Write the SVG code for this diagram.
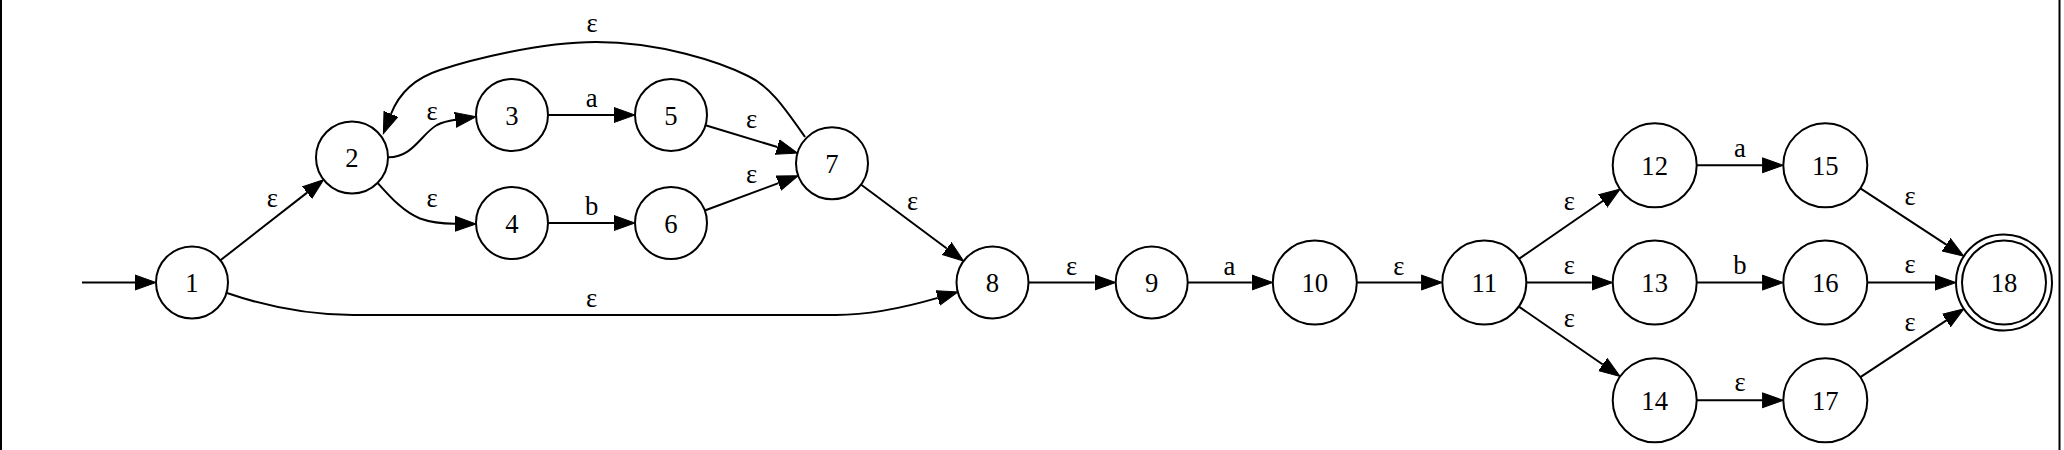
<svg xmlns="http://www.w3.org/2000/svg" width="2064" height="450" viewBox="0 0 2064 450">
<style>
.n circle{fill:#fff;stroke:#000;stroke-width:2}
.n text,.lbl text{font-family:"Liberation Serif","Times New Roman",serif;font-size:26.67px;text-anchor:middle;fill:#000}
.e path{fill:none;stroke:#000;stroke-width:2;marker-end:url(#ah)}
.frame{stroke:#000;stroke-width:2}
</style>
<defs>
<marker id="ah" markerUnits="userSpaceOnUse" markerWidth="24" markerHeight="18" refX="0" refY="8" orient="auto" viewBox="0 0 24 16">
<path d="M0,0.5 L21,8 L0,15.5 z" fill="#000" stroke="#000" stroke-width="1"/>
</marker>
</defs>
<rect width="2064" height="450" fill="#fff"/>
<line class="frame" x1="1" y1="0" x2="1" y2="450"/>
<line class="frame" x1="2059.5" y1="0" x2="2059.5" y2="450"/>
<g id="connectors" class="e">
<path d="M82,282.5 L135,282.5"/>
<path d="M220.4,260.3 L307.1,192.6"/>
<path d="M227,293 C262,305 305,315 353,315 L836,315 C875,315 910,306 937.8,297.9"/>
<path d="M388.5,157.3 C413,157.3 421,134 437,125 C443,122 449,120.7 455.3,119.8"/>
<path d="M378,183.3 C392,199 404,212 420,218.5 C431,222.5 443,223.7 455,223.8"/>
<path d="M548,115 L614,115"/>
<path d="M548,223 L614,223"/>
<path d="M705.5,125.3 L777.4,147"/>
<path d="M704.8,210.5 L778.5,183.1"/>
<path d="M805,137 C786,110 770,86 748,76 C720,62 660,42 596,42 C540,42 470,60 440,70 C412,79 398,96 391,114"/>
<path d="M860.9,184.5 L946.8,248.5"/>
<path d="M1028.5,282.5 L1094.7,282.5"/>
<path d="M1187.7,282.5 L1251.8,282.5"/>
<path d="M1356.8,282.5 L1421.3,282.5"/>
<path d="M1518.9,258.9 L1602.8,201"/>
<path d="M1526.3,282.6 L1591.7,282.6"/>
<path d="M1518.9,306.6 L1602.8,364.5"/>
<path d="M1696.7,165.3 L1762.3,165.3"/>
<path d="M1696.7,282.6 L1762.3,282.6"/>
<path d="M1696.7,400.3 L1762.3,400.3"/>
<path d="M1860.4,188.3 L1946.3,244.7"/>
<path d="M1867.3,282.6 L1935,282.6"/>
<path d="M1860.4,377.2 L1946.4,320.4"/>
</g>
<g id="edge-labels" class="lbl">
<text x="272.3" y="206.5">ε</text>
<text x="591.7" y="306.5">ε</text>
<text x="432" y="120">ε</text>
<text x="432" y="206.7">ε</text>
<text x="591.7" y="106.5">a</text>
<text x="591.7" y="215">b</text>
<text x="751.7" y="128.3">ε</text>
<text x="751.7" y="182.7">ε</text>
<text x="592" y="32">ε</text>
<text x="912.5" y="210">ε</text>
<text x="1071.7" y="275">ε</text>
<text x="1229.5" y="275">a</text>
<text x="1398.8" y="275">ε</text>
<text x="1569.3" y="210.3">ε</text>
<text x="1569.3" y="274.3">ε</text>
<text x="1569.3" y="326.7">ε</text>
<text x="1740" y="157">a</text>
<text x="1740" y="274">b</text>
<text x="1740" y="391">ε</text>
<text x="1910" y="205.3">ε</text>
<text x="1910" y="273.3">ε</text>
<text x="1910" y="331">ε</text>
</g>
<g id="n1" class="n"><circle cx="192" cy="282.5" r="36"/><text x="192" y="292">1</text></g>
<g id="n2" class="n"><circle cx="352" cy="157.5" r="36"/><text x="352" y="167">2</text></g>
<g id="n3" class="n"><circle cx="512" cy="115" r="36"/><text x="512" y="124.5">3</text></g>
<g id="n4" class="n"><circle cx="512" cy="223" r="36"/><text x="512" y="232.5">4</text></g>
<g id="n5" class="n"><circle cx="671" cy="115" r="36"/><text x="671" y="124.5">5</text></g>
<g id="n6" class="n"><circle cx="671" cy="223" r="36"/><text x="671" y="232.5">6</text></g>
<g id="n7" class="n"><circle cx="832" cy="163.3" r="36"/><text x="832" y="172.8">7</text></g>
<g id="n8" class="n"><circle cx="992.5" cy="282.5" r="36"/><text x="992.5" y="292">8</text></g>
<g id="n9" class="n"><circle cx="1151.7" cy="282.5" r="36"/><text x="1151.7" y="292">9</text></g>
<g id="n10" class="n"><circle cx="1314.8" cy="282.5" r="42"/><text x="1314.8" y="292">10</text></g>
<g id="n11" class="n"><circle cx="1484.3" cy="282.6" r="42"/><text x="1484.3" y="292">11</text></g>
<g id="n12" class="n"><circle cx="1654.7" cy="165.3" r="42"/><text x="1654.7" y="174.8">12</text></g>
<g id="n13" class="n"><circle cx="1654.7" cy="282.6" r="42"/><text x="1654.7" y="292">13</text></g>
<g id="n14" class="n"><circle cx="1654.7" cy="400.3" r="42"/><text x="1654.7" y="409.8">14</text></g>
<g id="n15" class="n"><circle cx="1825.3" cy="165.3" r="42"/><text x="1825.3" y="174.8">15</text></g>
<g id="n16" class="n"><circle cx="1825.3" cy="282.6" r="42"/><text x="1825.3" y="292">16</text></g>
<g id="n17" class="n"><circle cx="1825.3" cy="400.3" r="42"/><text x="1825.3" y="409.8">17</text></g>
<g id="n18" class="n"><circle cx="2004" cy="282.5" r="48"/><circle cx="2004" cy="282.5" r="42"/><text x="2004" y="292">18</text></g>
</svg>
